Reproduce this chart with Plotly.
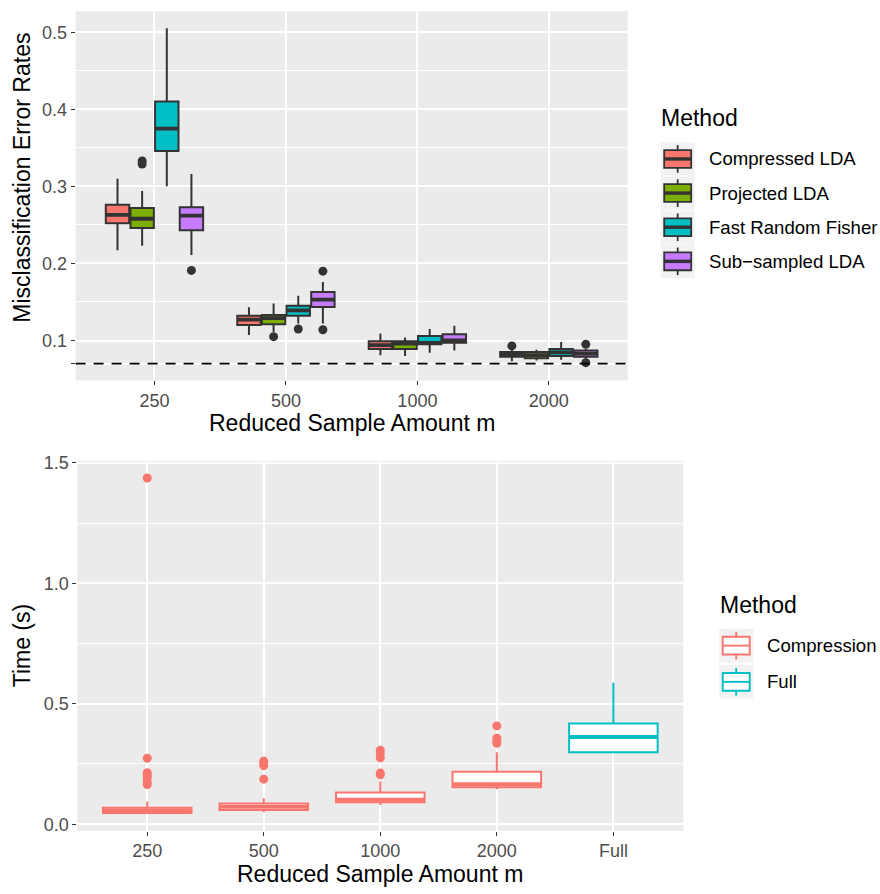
import plotly.graph_objects as go

# ---------------- data ----------------
m_levels = ["250", "500", "1000", "2000"]
methods = ["Compressed LDA", "Projected LDA", "Fast Random Fisher", "Sub\u2212sampled LDA"]
method_colors = ["#F8766D", "#7CAE00", "#00BFC4", "#C77CFF"]

# misclassification error box statistics, one list per method (over m_levels)
err_lower = [
    [0.217, 0.107, 0.081, 0.073],
    [0.223, 0.111, 0.080, 0.074],
    [0.300, 0.122, 0.084, 0.075],
    [0.211, 0.122, 0.087, 0.076],
]
err_q1 = [
    [0.252, 0.120, 0.089, 0.079],
    [0.246, 0.121, 0.089, 0.077],
    [0.346, 0.132, 0.095, 0.080],
    [0.243, 0.1435, 0.097, 0.079],
]
err_median = [
    [0.263, 0.127, 0.094, 0.082],
    [0.258, 0.129, 0.096, 0.081],
    [0.375, 0.139, 0.097, 0.0845],
    [0.262, 0.153, 0.100, 0.083],
]
err_q3 = [
    [0.276, 0.132, 0.099, 0.085],
    [0.272, 0.133, 0.099, 0.085],
    [0.410, 0.145, 0.106, 0.089],
    [0.273, 0.163, 0.108, 0.087],
]
err_upper = [
    [0.310, 0.143, 0.109, 0.088],
    [0.294, 0.148, 0.104, 0.088],
    [0.505, 0.158, 0.115, 0.098],
    [0.316, 0.176, 0.119, 0.089],
]
# outliers per method, per m level
err_outliers = [
    [[], [], [], [0.093]],
    [[0.329, 0.333], [0.105], [], []],
    [[], [0.115], [], []],
    [[0.191], [0.190, 0.114], [], [0.095, 0.0713]],
]
full_lda_error = 0.07

# computation time
time_levels = ["250", "500", "1000", "2000", "Full"]
time_methods = ["Compression", "Full"]
time_colors = ["#F8766D", "#00BFC4"]
comp_lower = [0.042, 0.050, 0.080, 0.145]
comp_q1 = [0.046, 0.059, 0.091, 0.153]
comp_median = [0.057, 0.072, 0.101, 0.166]
comp_q3 = [0.068, 0.086, 0.132, 0.218]
comp_upper = [0.094, 0.108, 0.177, 0.299]
comp_outliers = [
    [1.437, 0.274, 0.214, 0.205, 0.194, 0.175, 0.165],
    [0.262, 0.255, 0.243, 0.187],
    [0.307, 0.294, 0.276, 0.212, 0.205],
    [0.408, 0.357, 0.346, 0.336],
]
full_lower = [0.297]
full_q1 = [0.299]
full_median = [0.362]
full_q3 = [0.418]
full_upper = [0.587]

# ---------------- styling ----------------
W, H = 880, 894
FONT = "Liberation Sans, Arial, sans-serif"
PANEL = "#EBEBEB"
DARK = "#333333"
dodge = 0.1875
box_w_top = 0.178
box_w_bot = 0.76


def px(x):
    return x / W


def py(y):
    return 1 - y / H


fig = go.Figure()

# ---- top panel: error rates ----
pos_top = list(range(1, len(m_levels) + 1))
for i, meth in enumerate(methods):
    off = (i - (len(methods) - 1) / 2) * dodge
    xs = [p + off for p in pos_top]
    fig.add_trace(go.Box(
        x=xs, q1=err_q1[i], median=err_median[i], q3=err_q3[i],
        lowerfence=err_lower[i], upperfence=err_upper[i],
        width=box_w_top, fillcolor=method_colors[i],
        line=dict(color=DARK, width=2.0), whiskerwidth=0,
        boxpoints=False, name=meth, showlegend=False, hoverinfo="skip",
        xaxis="x", yaxis="y"))
    mx, my = [], []
    for x, m in zip(xs, err_median[i]):
        mx += [x - box_w_top / 2, x + box_w_top / 2, None]
        my += [m, m, None]
    fig.add_trace(go.Scatter(x=mx, y=my, mode="lines",
                             line=dict(color=DARK, width=3.8),
                             showlegend=False, hoverinfo="skip",
                             xaxis="x", yaxis="y"))
    ox, oy = [], []
    for x, outs in zip(xs, err_outliers[i]):
        ox += [x] * len(outs)
        oy += outs
    fig.add_trace(go.Scatter(x=ox, y=oy, mode="markers",
                             marker=dict(color=DARK, size=9),
                             showlegend=False, hoverinfo="skip",
                             xaxis="x", yaxis="y"))

# ---- bottom panel: time ----
pos_bot = list(range(1, len(time_levels) + 1))
comp_x = pos_bot[:4]
full_x = pos_bot[4:]
for xs, q1, med, q3, lo, up, col, name in [
    (comp_x, comp_q1, comp_median, comp_q3, comp_lower, comp_upper, time_colors[0], time_methods[0]),
    (full_x, full_q1, full_median, full_q3, full_lower, full_upper, time_colors[1], time_methods[1]),
]:
    fig.add_trace(go.Box(
        x=xs, q1=q1, median=med, q3=q3, lowerfence=lo, upperfence=up,
        width=box_w_bot, fillcolor="white",
        line=dict(color=col, width=2.0), whiskerwidth=0,
        boxpoints=False, name=name, showlegend=False, hoverinfo="skip",
        xaxis="x2", yaxis="y2"))
    mx, my = [], []
    for x, m in zip(xs, med):
        mx += [x - box_w_bot / 2, x + box_w_bot / 2, None]
        my += [m, m, None]
    fig.add_trace(go.Scatter(x=mx, y=my, mode="lines",
                             line=dict(color=col, width=4.0),
                             showlegend=False, hoverinfo="skip",
                             xaxis="x2", yaxis="y2"))

ox, oy = [], []
for x, outs in zip(comp_x, comp_outliers):
    ox += [x] * len(outs)
    oy += outs
fig.add_trace(go.Scatter(x=ox, y=oy, mode="markers",
                         marker=dict(color=time_colors[0], size=9),
                         showlegend=False, hoverinfo="skip",
                         xaxis="x2", yaxis="y2"))

# ---- axes ----
tick_style = dict(
    showgrid=True, gridcolor="white", gridwidth=1.8, zeroline=False,
    showline=False, ticks="outside", ticklen=4, tickwidth=1.1,
    tickcolor=DARK, tickfont=dict(family=FONT, size=18, color="#4D4D4D"),
    fixedrange=True,
)
y_ticks_top = [full_lda_error, 0.1, 0.2, 0.3, 0.4, 0.5]
y_text_top = ["", "0.1", "0.2", "0.3", "0.4", "0.5"]

fig.update_layout(
    width=W, height=H,
    margin=dict(l=0, r=0, t=0, b=0),
    paper_bgcolor="white", plot_bgcolor=PANEL,
    showlegend=False,
    xaxis=dict(domain=[px(75.6), px(627.7)], anchor="y", range=[0.4, 4.6],
               tickmode="array", tickvals=pos_top, ticktext=m_levels, **tick_style),
    yaxis=dict(domain=[py(377.5), py(3.3)], anchor="x", range=[0.0482, 0.5272],
               tickmode="array", tickvals=y_ticks_top, ticktext=y_text_top,
               minor=dict(tickmode="array", tickvals=[0.15, 0.25, 0.35, 0.45],
                          showgrid=True, gridcolor="white", gridwidth=0.9, ticks=""),
               **tick_style),
    xaxis2=dict(domain=[px(77.3), px(683.3)], anchor="y2", range=[0.4, 5.6],
                tickmode="array", tickvals=pos_bot, ticktext=time_levels, **tick_style),
    yaxis2=dict(domain=[py(834), py(459)], anchor="x2", range=[-0.0274, 1.508],
                tickmode="array", tickvals=[0.0, 0.5, 1.0, 1.5],
                ticktext=["0.0", "0.5", "1.0", "1.5"],
                minor=dict(tickmode="array", tickvals=[0.25, 0.75, 1.25],
                           showgrid=True, gridcolor="white", gridwidth=0.9, ticks=""),
                **tick_style),
)

# reference error of full LDA
fig.add_shape(type="line", xref="x domain", yref="y", x0=0, x1=1,
              y0=full_lda_error, y1=full_lda_error,
              line=dict(color="black", width=1.8, dash="10px,8px"))

# ---- axis titles ----
title_font = dict(family=FONT, size=23, color="black")
annotations = [
    dict(text="Reduced Sample Amount m", x=px(351.6), y=py(420.5), xref="paper", yref="paper",
         showarrow=False, xanchor="center", yanchor="middle", font=title_font),
    dict(text="Misclassification Error Rates", x=px(22), y=py(172), xref="paper", yref="paper",
         showarrow=False, xanchor="center", yanchor="middle", textangle=-90, font=title_font),
    dict(text="Reduced Sample Amount m", x=px(380.3), y=py(877.5), xref="paper", yref="paper",
         showarrow=False, xanchor="center", yanchor="middle", font=title_font),
    dict(text="Time (s)", x=px(22), y=py(647), xref="paper", yref="paper",
         showarrow=False, xanchor="center", yanchor="middle", textangle=-90, font=title_font),
]

# ---- legends drawn as keys ----
label_font = dict(family=FONT, size=18.6, color="black")
shapes = []


def legend_key(cx, cy, fill, edge, lw, med_w):
    k = 17
    shapes.append(dict(type="rect", xref="paper", yref="paper",
                       x0=px(cx - k), x1=px(cx + k), y0=py(cy + k), y1=py(cy - k),
                       fillcolor="#F2F2F2", line=dict(width=0), layer="above"))
    shapes.append(dict(type="line", xref="paper", yref="paper",
                       x0=px(cx), x1=px(cx), y0=py(cy - 14), y1=py(cy + 14),
                       line=dict(color=edge, width=lw), layer="above"))
    shapes.append(dict(type="rect", xref="paper", yref="paper",
                       x0=px(cx - 13.5), x1=px(cx + 13.5), y0=py(cy + 9), y1=py(cy - 9),
                       fillcolor=fill, line=dict(color=edge, width=lw), layer="above"))
    shapes.append(dict(type="line", xref="paper", yref="paper",
                       x0=px(cx - 13.5), x1=px(cx + 13.5), y0=py(cy), y1=py(cy),
                       line=dict(color=edge, width=med_w), layer="above"))


annotations.append(dict(text="Method", x=px(659), y=py(112), xref="paper", yref="paper",
                        showarrow=False, xanchor="left", yanchor="middle", font=title_font))
for i, meth in enumerate(methods):
    cy = 153 + i * 34.6
    legend_key(677.7, cy, method_colors[i], DARK, 1.8, 3.4)
    annotations.append(dict(text=meth, x=px(707), y=py(cy), xref="paper", yref="paper",
                            showarrow=False, xanchor="left", yanchor="middle", font=label_font))

annotations.append(dict(text="Method", x=px(717.5), y=py(605.5), xref="paper", yref="paper",
                        showarrow=False, xanchor="left", yanchor="middle", font=title_font))
for i, meth in enumerate(time_methods):
    cy = 646.3 + i * 36.7
    legend_key(736.2, cy, "white", time_colors[i], 1.9, 1.9)
    annotations.append(dict(text=meth, x=px(764.5), y=py(cy), xref="paper", yref="paper",
                            showarrow=False, xanchor="left", yanchor="middle", font=label_font))

for s in shapes:
    fig.add_shape(**s)
fig.update_layout(annotations=annotations)

fig.write_html("out.html", config={"displayModeBar": False})
